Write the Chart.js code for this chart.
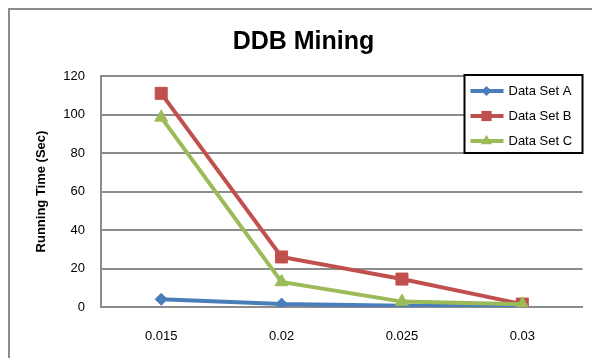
<!DOCTYPE html>
<html>
<head>
<meta charset="utf-8">
<title>DDB Mining</title>
<script src="https://cdn.jsdelivr.net/npm/chart.js@4.4.0/dist/chart.umd.min.js"></script>
<style>
  html, body { margin: 0; padding: 0; background: #ffffff; }
  #wrap { width: 592px; height: 358px; position: relative; }
</style>
</head>
<body>
<div id="wrap"><canvas id="chart" width="592" height="358"></canvas></div>
<script>
// Support thresholds on the x axis
const categories = ['0.015', '0.02', '0.025', '0.03'];

// Running time in seconds for each data set
const dataSetA = [4, 1.5, 0.6, 0.5];
const dataSetB = [111, 26, 14.5, 1.5];
const dataSetC = [98.5, 13, 2.8, 1.4];

const seriesNames = ['Data Set A', 'Data Set B', 'Data Set C'];

// Value axis range and tick step
const yMin = 0;
const yMax = 120;
const yStep = 20;

const FONT = "'Liberation Sans', Arial, sans-serif";
const GRID = '#8c8c8c';
const COLORS = ['#4a7ebb', '#c0504d', '#9bbb59'];
const STYLES = ['rectRot', 'rect', 'triangle'];
const RADII = [6, 8.5, 7.5];

// Outer frame of the chart object (top and left edges only)
const framePlugin = {
  id: 'frame',
  beforeDraw(chart) {
    const ctx = chart.ctx;
    ctx.save();
    ctx.fillStyle = '#ffffff';
    ctx.fillRect(0, 0, chart.width, chart.height);
    ctx.strokeStyle = GRID;
    ctx.lineWidth = 2;
    ctx.beginPath();
    ctx.moveTo(9, chart.height);
    ctx.lineTo(9, 9);
    ctx.lineTo(chart.width, 9);
    ctx.stroke();
    ctx.restore();
  }
};

function marker(ctx, style, x, y, r) {
  ctx.beginPath();
  if (style === 'rectRot') {
    ctx.moveTo(x, y - r); ctx.lineTo(x + r, y); ctx.lineTo(x, y + r); ctx.lineTo(x - r, y);
  } else if (style === 'rect') {
    const s = r * Math.SQRT1_2;
    ctx.rect(x - s, y - s, 2 * s, 2 * s);
  } else {
    const h = r * Math.sin(Math.PI / 3);
    ctx.moveTo(x, y - r); ctx.lineTo(x + h, y + r / 2); ctx.lineTo(x - h, y + r / 2);
  }
  ctx.closePath();
  ctx.fill();
}

// Boxed legend drawn inside the top-right corner of the plot
const boxLegendPlugin = {
  id: 'boxLegend',
  afterDraw(chart) {
    const ctx = chart.ctx;
    const area = chart.chartArea;
    const w = 118, h = 78;
    const x0 = area.right - w, y0 = area.top - 1;
    ctx.save();
    ctx.fillStyle = '#ffffff';
    ctx.fillRect(x0, y0, w, h);
    ctx.strokeStyle = '#000000';
    ctx.lineWidth = 2;
    ctx.strokeRect(x0, y0, w, h);
    ctx.font = '13px ' + FONT;
    ctx.textBaseline = 'middle';
    ctx.textAlign = 'left';
    chart.data.datasets.forEach((ds, i) => {
      const cy = y0 + 16 + i * 25;
      ctx.strokeStyle = ds.borderColor;
      ctx.lineWidth = 4;
      ctx.beginPath();
      ctx.moveTo(x0 + 6, cy);
      ctx.lineTo(x0 + 39, cy);
      ctx.stroke();
      ctx.fillStyle = ds.borderColor;
      marker(ctx, STYLES[i], x0 + 22, cy, RADII[i] * 0.85);
      ctx.fillStyle = '#000000';
      ctx.fillText(ds.label, x0 + 44, cy);
    });
    ctx.restore();
  }
};

const seriesValues = [dataSetA, dataSetB, dataSetC];

new Chart(document.getElementById('chart'), {
  type: 'line',
  data: {
    labels: categories,
    datasets: seriesValues.map((vals, i) => ({
      label: seriesNames[i],
      data: vals,
      borderColor: COLORS[i],
      backgroundColor: COLORS[i],
      borderWidth: 4,
      tension: 0,
      pointStyle: STYLES[i],
      pointRadius: RADII[i],
      pointHoverRadius: RADII[i],
      pointBorderWidth: 1,
      pointBorderColor: COLORS[i],
      pointBackgroundColor: COLORS[i],
      order: 2 - i
    }))
  },
  options: {
    responsive: false,
    animation: false,
    devicePixelRatio: 1,
    layout: { padding: { left: 23, right: 8, top: 8, bottom: 0 } },
    plugins: {
      legend: { display: false },
      tooltip: { enabled: false },
      title: {
        display: true,
        text: 'DDB Mining',
        color: '#000000',
        font: { family: FONT, size: 25, weight: 'bold' },
        padding: { top: 19, bottom: 19 }
      }
    },
    scales: {
      x: {
        type: 'category',
        offset: true,
        grid: { display: false, drawTicks: false },
        border: { display: true, color: GRID, width: 2 },
        ticks: { color: '#000000', font: { family: FONT, size: 13 }, padding: 22, maxRotation: 0 },
        afterFit(scale) { scale.height = 51; }
      },
      y: {
        min: yMin,
        max: yMax,
        ticks: { stepSize: yStep, color: '#000000', font: { family: FONT, size: 13 }, padding: 16 },
        grid: { color: GRID, lineWidth: 2, drawTicks: false },
        border: { display: true, color: GRID, width: 2 },
        title: {
          display: true,
          text: 'Running Time (Sec)',
          color: '#000000',
          font: { family: FONT, size: 13, weight: 'bold' },
          padding: { top: 11, bottom: 0 }
        },
        afterFit(scale) { scale.width = 78; }
      }
    }
  },
  plugins: [framePlugin, boxLegendPlugin]
});
</script>
</body>
</html>
